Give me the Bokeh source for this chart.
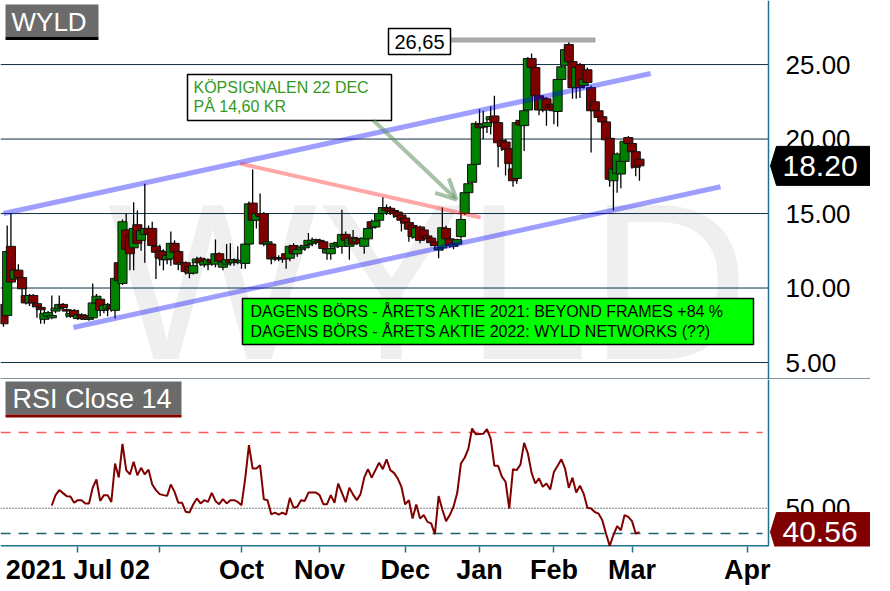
from bokeh.plotting import figure
from bokeh.models import (Range1d, FixedTicker, Span, Label,
                          Arrow, OpenHead, ColumnDataSource, BoxAnnotation)
from bokeh.layouts import column
from bokeh.embed import file_html
from bokeh.resources import INLINE
from bokeh.core.properties import value

# ---------------- data ----------------
OPEN = [8.9, 8.15, 12.8, 10.6, 11.2, 10.7, 9.5, 9.0, 9.5, 8.95,
        8.7, 7.9, 8.1, 8.0, 8.45, 8.6, 8.9, 8.55, 8.1, 8.5,
        7.95, 8.2, 8.15, 7.9, 8.0, 9.0, 9.25, 8.5, 8.6, 8.8,
        8.5, 11.7, 10.3, 13.9, 13.5, 12.7, 14.25, 13.2, 13.6, 14.0,
        14.0, 12.8, 12.5, 12.45, 11.9, 11.95, 13.0, 12.45, 11.6, 11.7,
        11.45, 11.0, 11.7, 12.0, 11.55, 11.6, 11.9, 11.6, 12.3, 11.4,
        11.6, 11.9, 11.7, 11.85, 11.7, 11.65, 12.95, 15.7, 14.55, 15.0,
        15.0, 12.95, 12.95, 11.95, 12.05, 11.95, 12.3, 12.0, 12.85, 12.3,
        12.6, 12.7, 12.9, 13.0, 13.1, 13.2, 13.1, 12.35, 12.3, 12.75,
        12.9, 12.8, 13.6, 12.8, 13.4, 13.1, 13.3, 12.8, 13.3, 14.45,
        14.1, 14.55, 15.0, 15.4, 15.35, 15.2, 15.1, 14.9, 14.7, 14.4,
        14.2, 13.4, 14.1, 13.9, 13.5, 13.35, 13.1, 12.55, 12.7, 14.0,
        13.3, 12.8, 12.95, 13.45, 15.0, 16.4, 17.1, 18.3, 21.0, 20.8,
        20.85, 21.3, 21.55, 21.1, 19.9, 19.8, 19.35, 18.0, 17.35, 21.25,
        20.9, 21.95, 25.4, 24.8, 22.9, 21.95, 22.7, 22.3, 22.35, 21.85,
        24.0, 24.95, 26.35, 25.2, 23.45, 25.0, 23.6, 24.65, 23.45, 22.5,
        21.9, 21.5, 21.15, 20.05, 17.2, 17.7, 17.65, 18.5, 20.1, 19.7,
        19.15, 18.65]
HIGH = [9.1, 14.2, 15.0, 11.4, 11.6, 10.9, 10.1, 9.6, 9.6, 9.05,
        8.8, 8.55, 8.45, 9.5, 8.8, 9.5, 9.0, 8.65, 8.4, 8.6,
        8.3, 8.3, 8.25, 8.1, 10.3, 9.6, 9.35, 8.9, 9.0, 8.95,
        10.8, 11.9, 14.6, 15.0, 13.7, 15.75, 15.2, 14.0, 17.0, 14.2,
        14.45, 12.9, 12.9, 12.6, 12.4, 13.8, 13.2, 12.6, 11.9, 11.8,
        11.6, 11.7, 12.1, 12.1, 11.9, 12.0, 12.0, 13.25, 12.4, 11.9,
        12.95, 13.0, 12.0, 12.8, 11.9, 13.0, 15.8, 17.95, 15.2, 16.35,
        15.1, 13.2, 13.1, 12.2, 12.2, 12.1, 12.4, 12.9, 13.0, 12.7,
        12.9, 12.9, 13.7, 13.4, 13.3, 13.3, 13.2, 12.7, 12.75, 13.1,
        13.2, 15.25, 13.8, 13.5, 13.9, 13.4, 13.4, 13.45, 14.1, 14.6,
        14.6, 15.1, 16.1, 15.6, 15.5, 15.3, 15.2, 15.0, 14.8, 14.5,
        14.3, 14.2, 14.2, 14.0, 13.6, 13.5, 13.2, 12.8, 15.4, 14.2,
        13.4, 13.1, 13.3, 15.1, 16.5, 17.3, 18.4, 21.2, 22.0, 21.9,
        21.3, 22.2, 22.9, 21.3, 20.1, 20.0, 19.5, 18.2, 21.3, 21.4,
        22.45, 25.5, 25.75, 24.9, 23.5, 22.9, 22.8, 22.6, 22.5, 24.1,
        25.0, 26.2, 26.65, 25.4, 24.9, 25.1, 24.2, 24.8, 23.6, 22.6,
        22.0, 21.6, 21.3, 20.1, 18.1, 19.1, 18.6, 19.95, 20.2, 19.8,
        19.2, 18.7]
LOW = [7.4, 7.8, 10.2, 10.4, 10.6, 9.0, 8.9, 8.8, 8.7, 8.0,
       7.6, 7.6, 7.95, 7.9, 8.3, 8.5, 8.6, 8.0, 8.0, 8.0,
       7.85, 7.85, 7.85, 7.8, 7.9, 8.9, 8.1, 8.3, 8.1, 8.4,
       7.95, 10.4, 10.2, 11.7, 11.2, 11.2, 12.9, 12.5, 11.7, 13.3,
       12.7, 10.6, 11.5, 11.2, 11.6, 11.5, 12.2, 11.2, 11.3, 10.9,
       10.65, 10.9, 11.3, 11.5, 11.4, 11.2, 11.5, 11.4, 11.6, 11.2,
       11.4, 11.5, 11.5, 11.6, 11.3, 11.3, 12.8, 13.6, 14.0, 13.8,
       12.8, 12.7, 11.6, 11.8, 11.8, 11.7, 11.3, 11.8, 12.1, 12.1,
       12.4, 12.5, 12.7, 12.8, 12.9, 12.9, 12.5, 11.9, 11.9, 12.6,
       12.7, 12.3, 13.1, 11.9, 12.8, 12.9, 12.9, 12.3, 13.2, 13.9,
       14.0, 14.4, 14.8, 14.9, 14.9, 14.7, 14.6, 13.8, 14.2, 13.1,
       13.3, 13.3, 13.0, 13.2, 13.0, 12.8, 12.6, 12.0, 12.5, 13.1,
       12.7, 12.6, 12.8, 13.3, 14.9, 15.9, 17.0, 18.2, 20.5, 20.0,
       20.4, 20.3, 21.0, 18.1, 19.2, 17.55, 17.7, 16.8, 17.0, 20.7,
       19.2, 21.8, 24.6, 22.7, 21.6, 21.8, 20.9, 21.9, 21.0, 20.85,
       23.9, 24.8, 25.1, 22.7, 22.7, 22.75, 23.4, 23.6, 19.1, 21.7,
       21.2, 20.9, 19.1, 16.8, 15.2, 16.4, 16.7, 18.3, 19.5, 18.0,
       17.5, 17.2]
CLOSE = [7.6, 12.45, 10.4, 11.2, 10.7, 9.95, 9.0, 9.5, 9.0, 8.75,
         8.55, 8.3, 8.35, 8.15, 8.65, 8.9, 8.7, 8.45, 8.3, 8.1,
         8.2, 7.95, 7.9, 8.0, 9.0, 9.45, 8.5, 8.85, 8.9, 8.6,
         10.65, 10.5, 14.45, 12.6, 12.3, 14.0, 13.0, 13.85, 14.0, 13.6,
         12.85, 12.4, 12.0, 11.9, 12.2, 13.0, 12.4, 11.6, 11.7, 11.1,
         11.0, 11.5, 11.95, 11.7, 11.8, 11.9, 11.7, 12.3, 11.8, 11.75,
         11.9, 11.7, 11.9, 11.75, 11.85, 12.95, 15.65, 14.55, 15.0, 14.8,
         12.95, 13.1, 11.95, 12.05, 11.95, 12.0, 11.95, 12.8, 12.3, 12.6,
         12.75, 12.85, 13.2, 13.2, 13.25, 13.05, 12.65, 12.6, 12.65, 13.0,
         13.05, 13.6, 13.2, 13.35, 12.95, 13.3, 13.0, 13.35, 14.0, 14.05,
         14.5, 15.0, 15.4, 15.2, 15.1, 15.0, 14.8, 14.55, 14.35, 13.95,
         13.45, 14.05, 13.2, 13.4, 13.3, 13.05, 12.85, 12.7, 14.05, 13.3,
         12.85, 12.95, 13.25, 14.6, 16.4, 17.0, 18.3, 21.05, 20.75, 21.0,
         21.1, 21.5, 21.1, 19.75, 19.5, 19.3, 18.35, 17.2, 21.1, 20.95,
         21.9, 25.4, 24.8, 22.9, 21.95, 22.75, 21.95, 22.15, 21.9, 24.0,
         24.85, 26.0, 25.2, 23.45, 24.8, 23.45, 24.0, 23.8, 21.9, 21.9,
         21.45, 21.15, 19.95, 17.3, 18.0, 19.0, 18.5, 19.85, 19.7, 19.15,
         18.1, 18.2]
RSI_START = 13
RSI = [51.1, 55.2, 57.2, 56.0, 54.8, 54.7, 52.2, 53.2, 53.2, 51.9,
       51.9, 58.2, 61.4, 52.9, 55.2, 55.2, 52.5, 67.7, 62.2, 75.5,
       65.1, 63.4, 68.4, 63.1, 66.0, 63.4, 65.3, 59.4, 57.2, 55.6,
       55.2, 54.9, 59.4, 56.5, 52.2, 52.2, 48.6, 48.3, 51.5, 53.9,
       51.9, 53.2, 52.5, 56.1, 52.9, 51.6, 53.6, 51.9, 53.2, 53.2,
       52.5, 51.2, 61.8, 75.0, 65.7, 65.7, 67.0, 53.6, 53.2, 47.6,
       48.3, 47.5, 48.3, 47.5, 54.1, 50.2, 50.6, 53.2, 52.9, 56.2,
       56.2, 56.2, 55.2, 51.6, 51.6, 55.2, 52.2, 59.8, 56.1, 52.4,
       58.1, 55.4, 53.2, 55.6, 62.1, 65.5, 62.1, 65.1, 68.0, 65.5,
       69.4, 65.1, 64.0, 61.8, 58.5, 51.5, 53.2, 45.9, 51.5, 45.9,
       47.3, 44.6, 44.0, 39.7, 54.8, 49.5, 44.9, 47.3, 50.6, 56.0,
       67.7, 70.0, 73.5, 81.6, 79.3, 79.4, 79.5, 81.3, 77.6, 66.8,
       66.8, 62.5, 60.5, 49.9, 65.5, 65.1, 67.3, 75.9, 71.7, 64.0,
       59.8, 61.8, 58.5, 59.8, 57.4, 64.4, 66.8, 69.4, 65.7, 58.1,
       62.1, 56.2, 58.9, 55.8, 50.2, 49.9, 48.5, 47.9, 45.3, 40.0,
       35.1, 39.4, 42.9, 41.3, 47.3, 46.6, 44.9, 40.0, 40.56]
PRICE_TICKS = [5, 10, 15, 20, 25]
RSI_TICKS = [50]
DATE_TICKS = [20, 42, 64, 85, 108, 128, 148, 169, 200]
DATE_LABELS = ["2021 Jul 02", "", "Oct", "Nov", "Dec", "Jan", "Feb", "Mar", "Apr"]
CHANNEL_UP_X, CHANNEL_UP_Y = [0.0, 174.0], [15.0, 24.4]
CHANNEL_LO_X, CHANNEL_LO_Y = [18.8, 192.8], [7.35, 16.8]
RESIST_X, RESIST_Y = [63.7, 128.3], [18.35, 14.73]
RSI_UPPER, RSI_MID, RSI_LOWER = 80, 50, 40
TITLE = "WYLD"
RSI_TITLE = "RSI Close 14"
NOTE_BUY = ["KÖPSIGNALEN 22 DEC", "PÅ 14,60 KR"]
NOTE_GREEN = ["DAGENS BÖRS - ÅRETS AKTIE 2021: BEYOND FRAMES +84 %",
              "DAGENS BÖRS - ÅRETS AKTIE 2022: WYLD NETWORKS (??)"]

# ---------------- layout helpers ----------------
FONT = "Liberation Sans"
XR = (-0.8, 205.7)          # bar-index span of the 768 px chart area
PR = (3.86, 29.3)
RR = (34.85, 101.0)
AXC = "#20708f"
GRIDC = "#0e2f44"
H1, H2 = 379, 167


def px2x(px):
    return XR[0] + px / 768.0 * (XR[1] - XR[0])


def py1(py):
    return PR[1] - py / 379.0 * (PR[1] - PR[0])


def py2(py):
    return RR[1] - (py - 381.0) / 167.0 * (RR[1] - RR[0])


XEND = px2x(870)
XAX = px2x(768)
D1 = (PR[1] - PR[0]) / 379.0   # price units per reference pixel
D2 = (RR[1] - RR[0]) / 167.0   # rsi units per reference pixel


def tag_shape(yc, dpx):
    xs = [px2x(770), px2x(776), px2x(870), px2x(870), px2x(776)]
    ys = [yc, yc + 19.5 * dpx, yc + 19.5 * dpx, yc - 19.5 * dpx, yc - 19.5 * dpx]
    return xs, ys


# ---------------- price panel ----------------
p1 = figure(frame_width=870, frame_height=H1, x_range=Range1d(XR[0], XEND),
            y_range=Range1d(*PR), y_axis_location=None, output_backend="svg",
            toolbar_location=None, min_border_left=0, min_border_top=0,
            min_border_bottom=0, min_border_right=0,
            background_fill_color="white", border_fill_color="white")
p1.outline_line_color = None
p1.grid.grid_line_color = None

xa = p1.xaxis[0]
xa.ticker = FixedTicker(ticks=[])
xa.major_label_text_font_size = "0px"
xa.major_tick_line_color = None
xa.minor_tick_line_color = None
xa.major_tick_out = 0
xa.major_label_standoff = 0
xa.axis_line_color = GRIDC
xa.axis_line_width = 2

# watermark
p1.text(x=[px2x(428)], y=[py1(281)], text=[TITLE], text_font=value(FONT),
        text_font_size="222px", text_color="#efefef", text_align="center",
        text_baseline="middle", level="image")

# price grid + price scale labels
p1.segment(x0=[XR[0]] * len(PRICE_TICKS), y0=PRICE_TICKS, x1=[XAX] * len(PRICE_TICKS),
           y1=PRICE_TICKS, line_color=GRIDC, line_width=1, level="underlay")
p1.add_layout(Span(location=XAX, dimension="height", line_color=AXC, line_width=1.5))
p1.text(x=[px2x(785)] * len(PRICE_TICKS), y=PRICE_TICKS,
        text=[f"{t:.2f}" for t in PRICE_TICKS], text_font=value(FONT),
        text_font_size="26px", text_color="black", text_baseline="middle")

N = len(CLOSE)
src = ColumnDataSource(dict(
    x=list(range(N)), h=HIGH, l=LOW,
    top=[max(o, c) for o, c in zip(OPEN, CLOSE)],
    bot=[min(o, c) for o, c in zip(OPEN, CLOSE)],
    color=["#008000" if c >= o else "#800000" for o, c in zip(OPEN, CLOSE)],
))
p1.segment(x0="x", y0="l", x1="x", y1="h", source=src, line_color="black", line_width=1.3)
p1.vbar(x="x", width=2.45, top="top", bottom="bot", source=src,
        fill_color="color", line_color="#101010", line_width=1)

# trend lines
p1.line(CHANNEL_UP_X, CHANNEL_UP_Y, line_color="#0000ff", line_alpha=0.38, line_width=5)
p1.line(CHANNEL_LO_X, CHANNEL_LO_Y, line_color="#0000ff", line_alpha=0.38, line_width=5)
p1.line(RESIST_X, RESIST_Y, line_color="#ff0000", line_alpha=0.35, line_width=4)
top_high = max(HIGH)
p1.line([px2x(450), px2x(595)], [top_high, top_high], line_color="#a9a9a9", line_width=5)

# 26,65 box
p1.quad(left=[px2x(388)], right=[px2x(450)], top=[py1(28)], bottom=[py1(54)],
        fill_color="white", line_color="black", line_width=1.5)
p1.text(x=[px2x(394)], y=[py1(41.5)], text=[f"{top_high:.2f}".replace(".", ",")],
        text_font=value(FONT), text_font_size="20px", text_color="black",
        text_baseline="middle")

# buy signal note
p1.quad(left=[px2x(187)], right=[px2x(391)], top=[py1(74)], bottom=[py1(120)],
        fill_color="white", line_color="black", line_width=1.5)
p1.text(x=[px2x(193), px2x(193)], y=[py1(87), py1(106)], text=NOTE_BUY,
        text_font=value(FONT), text_font_size="16px", text_color="#339922",
        text_baseline="middle")

# green note
p1.quad(left=[px2x(242)], right=[px2x(753)], top=[py1(298)], bottom=[py1(344)],
        fill_color="#00ff00", line_color="black", line_width=1.5)
p1.text(x=[px2x(250), px2x(250)], y=[py1(311), py1(331)], text=NOTE_GREEN,
        text_font=value(FONT), text_font_size="16px", text_color="black",
        text_baseline="middle")

p1.add_layout(Arrow(end=OpenHead(size=20, line_color="#5e8f5e", line_width=4, line_alpha=0.55),
                    x_start=px2x(373), y_start=py1(120), x_end=px2x(456), y_end=py1(199),
                    line_color="#5e8f5e", line_alpha=0.55, line_width=4))

# title box
p1.add_layout(BoxAnnotation(left=px2x(5), right=px2x(98), top=py1(4), bottom=py1(36.5),
                            fill_color="#6b6b6b", fill_alpha=1, line_color=None))
p1.add_layout(BoxAnnotation(left=px2x(5), right=px2x(98), top=py1(36.5), bottom=py1(39.5),
                            fill_color="black", fill_alpha=1, line_color=None))
p1.add_layout(Label(x=px2x(11), y=py1(21), text=TITLE, text_font=FONT, text_font_size="26px",
                    text_color="white", text_baseline="middle"))

# last price tag
txs, tys = tag_shape(CLOSE[-1], D1)
p1.patch(txs, tys, fill_color="black", line_color="black")
p1.text(x=[px2x(782)], y=[CLOSE[-1]], text=[f"{CLOSE[-1]:.2f}"], text_font=value(FONT),
        text_font_size="30px", text_color="white", text_baseline="middle")

# ---------------- RSI panel ----------------
p2 = figure(frame_width=870, frame_height=H2, x_range=p1.x_range, y_range=Range1d(*RR),
            y_axis_location=None, output_backend="svg", toolbar_location=None,
            min_border_left=0, min_border_top=0, min_border_bottom=0, min_border_right=0,
            background_fill_color="white", border_fill_color="white")
p2.outline_line_color = None
p2.grid.grid_line_color = None

xa2 = p2.xaxis[0]
xa2.ticker = FixedTicker(ticks=DATE_TICKS)
xa2.major_label_overrides = {t: lab for t, lab in zip(DATE_TICKS, DATE_LABELS)}
xa2.major_label_text_font = FONT
xa2.major_label_text_font_size = "27px"
xa2.major_label_text_font_style = "bold"
xa2.major_label_text_color = "black"
xa2.axis_line_color = None
xa2.major_tick_line_color = AXC
xa2.major_tick_line_width = 1.5
xa2.major_tick_out = 6
xa2.major_tick_in = 0
xa2.minor_tick_line_color = None
xa2.major_label_standoff = 2

p2.add_layout(Span(location=XAX, dimension="height", line_color=AXC, line_width=1.5))
p2.segment(x0=[XR[0]], y0=[RR[0]], x1=[XAX], y1=[RR[0]], line_color=AXC, line_width=3)

p2.segment(x0=[XR[0]], y0=[RSI_UPPER], x1=[px2x(762)], y1=[RSI_UPPER],
           line_color="#ff5a5a", line_dash="10 8", line_width=1.5)
p2.segment(x0=[XR[0]], y0=[RSI_LOWER], x1=[px2x(762)], y1=[RSI_LOWER],
           line_color="#1f5f73", line_dash="10 8", line_width=1.5)
p2.segment(x0=[XR[0]], y0=[RSI_MID], x1=[XAX], y1=[RSI_MID],
           line_color="black", line_dash="1 2", line_width=1)

p2.text(x=[px2x(785)] * len(RSI_TICKS), y=RSI_TICKS,
        text=[f"{t:.2f}" for t in RSI_TICKS], text_font=value(FONT),
        text_font_size="26px", text_color="black", text_baseline="middle")

p2.line(x=list(range(RSI_START, RSI_START + len(RSI))), y=RSI,
        line_color="#800000", line_width=2)

p2.add_layout(BoxAnnotation(left=px2x(5), right=px2x(181), top=py2(383), bottom=py2(416),
                            fill_color="#6b6b6b", fill_alpha=1, line_color=None))
p2.add_layout(BoxAnnotation(left=px2x(5), right=px2x(181), top=py2(416), bottom=py2(419),
                            fill_color="#800000", fill_alpha=1, line_color=None))
p2.add_layout(Label(x=px2x(12), y=py2(400), text=RSI_TITLE, text_font=FONT,
                    text_font_size="27px", text_color="white", text_baseline="middle"))

rxs, rys = tag_shape(RSI[-1], D2)
p2.patch(rxs, rys, fill_color="#800000", line_color="#800000")
p2.text(x=[px2x(782)], y=[RSI[-1]], text=[f"{RSI[-1]:.2f}"], text_font=value(FONT),
        text_font_size="30px", text_color="white", text_baseline="middle")

layout = column(p1, p2, spacing=0)
open("out.html", "w").write(file_html(layout, INLINE))
